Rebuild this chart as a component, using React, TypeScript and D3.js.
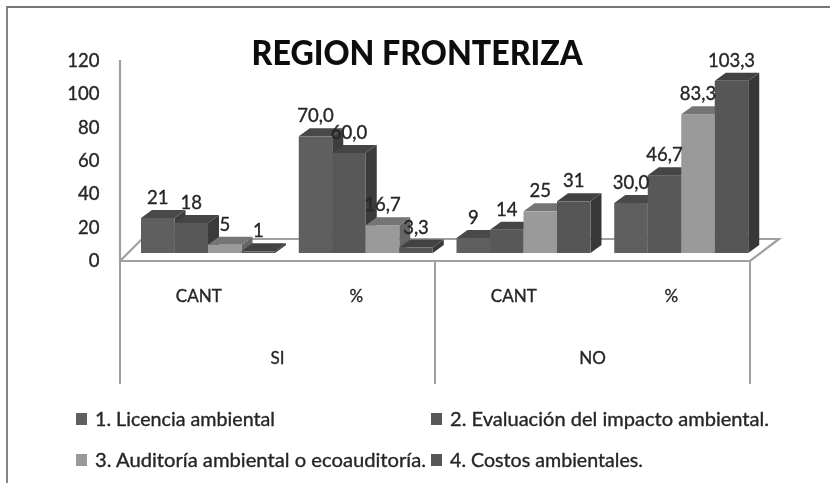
import React from "react";
import * as d3 from "d3";

const title = "REGION FRONTERIZA";
const groups = ["SI|CANT", "SI|%", "NO|CANT", "NO|%"];
const outerLabels = ["SI", "NO"];
const innerLabels = ["CANT", "%", "CANT", "%"];
const seriesNames = ["1. Licencia ambiental", "2. Evaluación del impacto ambiental.", "3. Auditoría ambiental o ecoauditoría.", "4. Costos ambientales."];
const seriesFront = ["#5e5e5e", "#585858", "#9a9a9a", "#565656"];
const seriesTop = ["#484848", "#444444", "#747474", "#424242"];
const seriesSide = ["#3e3e3e", "#3a3a3a", "#666666", "#383838"];
const values = [
  [21, 70, 9, 30],
  [18, 60, 14, 46.7],
  [5, 16.7, 25, 83.3],
  [1, 3.3, 31, 103.3],
];
const labels = [
  ["21", "70,0", "9", "30,0"],
  ["18", "60,0", "14", "46,7"],
  ["5", "16,7", "25", "83,3"],
  ["1", "3,3", "31", "103,3"],
];
const yTicks = [0, 20, 40, 60, 80, 100, 120];

const legendLengths = [180, 319, 331, 193];
const DX = 11;
const DY = 8;
const font = "Lato, 'Open Sans', sans-serif";
const txt = "#262626";
const axis = "#a0a0a0";

export default function App() {
  const yAxis = d3.scaleLinear().domain([0, 120]).range([260.5, 60.5]);
  const yBar = d3.scaleLinear().domain([0, 120]).range([253, 53]);
  const xGroup = d3.scaleBand().domain(groups).range([141, 772]);
  const xBar = d3.scaleBand().domain(seriesNames).range([0, 134]);
  const xAxis = d3.scaleBand().domain(groups).range([120, 750]);
  const w = xBar.bandwidth();
  const floorPath = d3.line()([[120, 261], [142, 239], [779, 239], [750, 261], [120, 261]] as [number, number][]) || "";
  const heavy = { stroke: txt, strokeWidth: 0.35 };

  return (
    <svg width={830} height={483} style={{ position: "absolute", left: 0, top: 0, background: "#fff" }}>
      <defs>
        <filter id="soft" x="0" y="0" width="100%" height="100%">
          <feGaussianBlur stdDeviation="0.6" />
        </filter>
      </defs>
      <g filter="url(#soft)">
        <rect x={0} y={0} width={830} height={483} fill="#fff" />
        <path d="M7,483 V7 H830" fill="none" stroke="#777" strokeWidth={1.8} />
        <text x={417} y={65} textAnchor="middle" fontFamily={font} fontWeight={900} fontSize={33.5} fill="#111" textLength={331} lengthAdjust="spacingAndGlyphs">{title}</text>

        <line x1={120} x2={120} y1={60} y2={261} stroke={axis} strokeWidth={2.2} />
        <path d={floorPath} fill="none" stroke={axis} strokeWidth={2.2} />
        {yTicks.map((t) => (
          <text key={t} x={99.5} y={yAxis(t) + 6.5} textAnchor="end" fontFamily={font} fontSize={18.5} fill={txt} {...heavy}>{t}</text>
        ))}

        {[0, 2, 4].map((i) => {
          const x = i < 4 ? xAxis(groups[i])! : 750;
          return <line key={i} x1={x} x2={x} y1={261} y2={384} stroke={axis} strokeWidth={2} />;
        })}
        {innerLabels.map((l, i) => (
          <text key={i} x={xAxis(groups[i])! + xAxis.bandwidth() / 2} y={302} textAnchor="middle" fontFamily={font} fontSize={17} fill={txt} {...heavy}>{l}</text>
        ))}
        {outerLabels.map((l, i) => (
          <text key={l} x={xAxis(groups[i * 2])! + xAxis.bandwidth()} y={364} textAnchor="middle" fontFamily={font} fontSize={17} fill={txt} {...heavy}>{l}</text>
        ))}

        {groups.map((g, gi) =>
          seriesNames.map((s, si) => {
            const x = xGroup(g)! + xBar(s)!;
            const y0 = yBar(0);
            const y1 = yBar(values[si][gi]);
            return (
              <g key={g + s}>
                <path d={`M${x + w},${y1} l${DX},${-DY} V${y0 - DY} L${x + w},${y0} Z`} fill={seriesSide[si]} />
                <path d={`M${x},${y1} l${DX},${-DY} h${w} l${-DX},${DY} Z`} fill={seriesTop[si]} />
                <rect x={x} y={y1} width={w} height={y0 - y1} fill={seriesFront[si]} />
              </g>
            );
          })
        )}
        {groups.map((g, gi) =>
          seriesNames.map((s, si) => {
            const x = xGroup(g)! + xBar(s)!;
            return (
              <text key={g + s} x={x + w / 2} y={yBar(values[si][gi]) - 14} textAnchor="middle" fontFamily={font} fontSize={18.5} fill={txt} {...heavy}>{labels[si][gi]}</text>
            );
          })
        )}

        {seriesNames.map((s, i) => {
          const col = i % 2;
          const row = Math.floor(i / 2);
          const lx = col === 0 ? 76 : 431;
          const ly = row === 0 ? 426 : 467;
          return (
            <g key={s}>
              <rect x={lx} y={ly - 13} width={11} height={12} fill={seriesFront[i]} />
              <text x={lx + 19} y={ly} fontFamily={font} fontSize={19} fill={txt} {...heavy} textLength={legendLengths[i]} lengthAdjust="spacingAndGlyphs">{s}</text>
            </g>
          );
        })}
      </g>
    </svg>
  );
}
